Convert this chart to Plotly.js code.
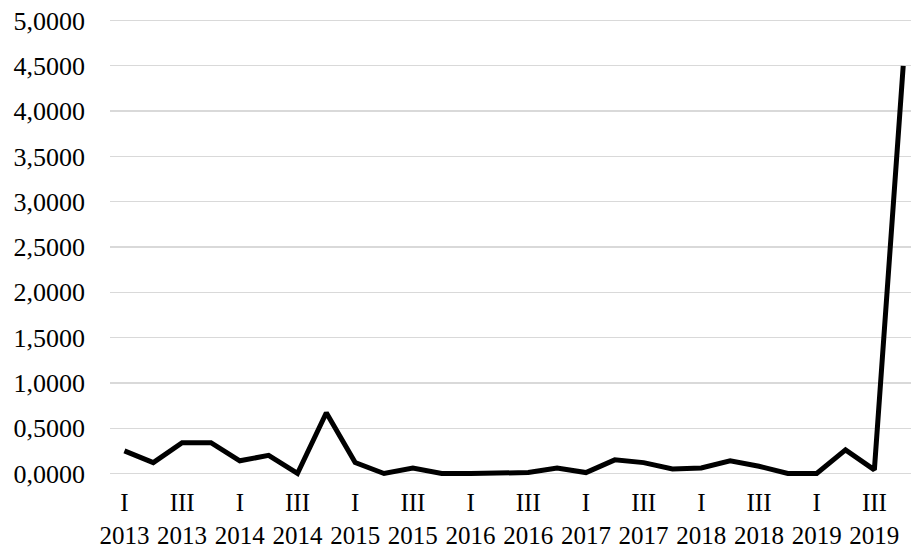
<!DOCTYPE html>
<html>
<head>
<meta charset="utf-8">
<script src="https://cdn.plot.ly/plotly-3.0.1.min.js"></script>
<style>html,body{margin:0;padding:0;background:#fff;}#chart{width:911px;height:548px;}</style>
</head>
<body>
<div id="chart"></div>
<script>
const years = ["2013","2014","2015","2016","2017","2018","2019"];
const quarters = ["I","II","III","IV"];
const values = [
  0.25, 0.12, 0.34, 0.34,
  0.14, 0.20, 0.00, 0.67,
  0.12, 0.00, 0.06, 0.00,
  0.00, 0.00, 0.01, 0.06,
  0.01, 0.15, 0.12, 0.05,
  0.06, 0.14, 0.08, 0.00,
  0.00, 0.26, 0.04, 4.50
];
const yTicks = [0,0.5,1,1.5,2,2.5,3,3.5,4,4.5,5];

const x = [], tickvals = [], ticktext = [];
years.forEach(y => quarters.forEach(q => {
  const i = x.length;
  x.push(i);
  if (q === "I" || q === "III") { tickvals.push(i); ticktext.push(q + "<br>" + y); }
}));

const family = "Liberation Serif, Times New Roman, serif";
const yFont = {family: family, size: 26, color: "#000"};
const xFont = {family: family, size: 25, color: "#000"};

Plotly.newPlot("chart", [{
  x: x, y: values, type: "scatter", mode: "lines",
  line: {color: "#000", width: 5, shape: "linear"},
  hoverinfo: "none"
}], {
  width: 911, height: 548,
  margin: {l: 110, r: 0, t: 16, b: 70, pad: 0},
  paper_bgcolor: "#fff", plot_bgcolor: "#fff",
  font: yFont,
  separators: ",.",
  showlegend: false,
  xaxis: {
    range: [-0.5, 27.27], tickvals: tickvals, ticktext: ticktext,
    showgrid: false, zeroline: false, showline: false, ticks: "",
    tickfont: xFont, ticklabelstandoff: 7
  },
  yaxis: {
    range: [-0.05, 5.05], tickvals: yTicks, tickformat: ".4f",
    showgrid: true, gridcolor: "#d9d9d9", gridwidth: 1.3,
    zeroline: false, showline: false, ticks: "",
    tickfont: yFont, ticklabelstandoff: 24
  }
}, {staticPlot: true});
</script>
</body>
</html>
